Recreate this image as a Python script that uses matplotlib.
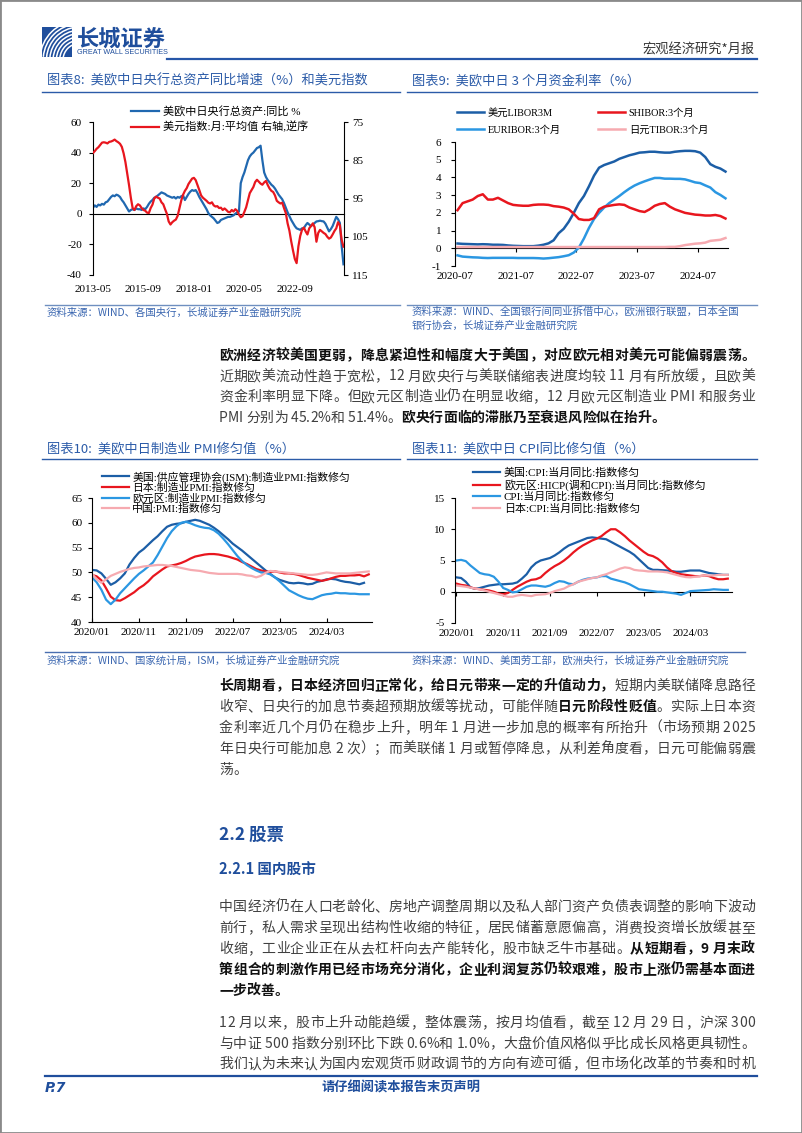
import numpy as np
import matplotlib
matplotlib.use("Agg")
import matplotlib.pyplot as plt
from matplotlib.font_manager import FontProperties
from matplotlib.patches import Rectangle, Arc
from matplotlib.lines import Line2D

# -----------------------------
# Data
# -----------------------------
# Chart 8: monthly, 2013-05 .. 2024-12
x8_start = "2013-05"
x8_labels = ["2013-05", "2015-09", "2018-01", "2020-05", "2022-09"]
cb_assets_yoy = [
    4.0, 5.5, 4.5, 6.0, 5.5, 6.5, 6.0, 7.5, 8.0, 9.5,
    11.0, 12.0, 11.5, 12.5, 12.0, 11.0, 9.0, 7.5, 5.5, 3.5,
    1.5, 2.5, 3.0, 2.5, 3.5, 3.0, 3.0, 2.5, 3.5, 3.0,
    4.5, 6.5, 8.0, 9.0, 10.5, 11.0, 12.0, 13.0, 14.0, 13.5,
    13.0, 12.0, 11.5, 11.0, 10.5, 11.0, 10.0, 11.0, 10.5, 11.5,
    12.0, 9.0, 11.0, 13.0, 14.5, 15.5, 15.0, 15.5, 13.5, 11.0,
    9.0, 7.0, 5.0, 3.0, 0.5, -1.0, -2.0, -3.0, -4.5, -6.0,
    -5.5, -4.0, -3.5, -3.0, -2.5, -2.0, -2.0, -1.5, -1.0, 0.0,
    1.0, 1.5, 20.0, 24.0, 27.0, 31.0, 35.0, 37.5, 39.0, 40.0,
    41.5, 43.0, 43.5, 44.5, 35.0, 27.0, 24.0, 22.0, 20.5, 19.0,
    18.0, 16.5, 14.5, 12.5, 11.0, 9.5, 7.0, 4.0, 1.0, -1.5,
    -4.0, -6.0, -8.0, -9.5, -10.0, -10.5, -9.5, -9.5, -7.5, -6.0,
    -7.0, -8.0, -7.0, -6.0, -5.0, -4.8, -4.5, -4.8, -5.0, -6.5,
    -9.0, -11.5, -10.0, -8.0, -5.0, -2.0, -3.5, -6.0, -21.0, -33.0,
]
dxy_monthly = [
    83.1, 82.6, 82.0, 81.6, 81.0, 80.4, 80.3, 80.4, 80.6, 80.2,
    80.1, 79.9, 79.6, 80.0, 80.3, 80.7, 81.5, 83.2, 85.5, 88.5,
    91.5, 94.8, 97.5, 98.0, 97.0, 96.5, 96.8, 97.5, 98.0, 98.2,
    98.7, 98.8, 97.5, 96.6, 95.0, 94.5, 94.8, 95.0, 96.0, 96.5,
    97.8, 99.0, 101.0, 101.8, 101.2, 100.8, 100.5, 99.5, 97.5, 95.5,
    94.0, 93.0, 92.3, 91.2, 90.5, 89.8, 89.6, 90.2, 91.5, 92.8,
    94.2, 94.8, 95.2, 95.6, 96.1, 96.3, 96.0, 96.8, 97.1, 97.0,
    97.5, 97.4, 98.0, 97.6, 98.0, 98.5, 98.6, 98.0, 98.4, 97.8,
    98.2, 99.2, 99.9, 99.6, 98.5, 97.3, 95.4, 93.6, 92.8, 92.0,
    90.7, 90.1, 90.6, 91.1, 91.4, 90.8, 90.4, 91.5, 92.4, 93.0,
    93.3, 94.2, 95.6, 96.0, 96.3, 96.1, 97.5, 98.8, 101.5, 103.4,
    106.2, 108.6, 110.8, 111.9, 107.5, 104.8, 103.2, 102.6, 103.6, 104.4,
    102.8, 102.2, 101.5, 102.5, 106.3, 104.0, 103.2, 103.6, 104.0, 104.3,
    105.0, 105.5, 105.2, 104.4, 103.5, 102.8, 101.2, 102.0, 105.8, 107.6,
]

# Chart 9: monthly averages, 2020-07 .. 2024-12
x9_start = "2020-07"
x9_labels = ["2020-07", "2021-07", "2022-07", "2023-07", "2024-07"]
libor_3m = [
    0.27, 0.25, 0.24, 0.23, 0.22, 0.23, 0.22, 0.20, 0.20, 0.19,
    0.16, 0.14, 0.13, 0.12, 0.12, 0.12, 0.15, 0.20, 0.28, 0.45,
    0.85, 1.10, 1.50, 2.00, 2.55, 2.95, 3.50, 4.10, 4.55, 4.70,
    4.80, 4.90, 5.05, 5.15, 5.25, 5.32, 5.40, 5.42, 5.45, 5.45,
    5.42, 5.40, 5.40, 5.45, 5.48, 5.50, 5.50, 5.48, 5.40, 5.15,
    4.75, 4.60, 4.50, 4.33,
]
euribor_3m = [
    -0.40, -0.47, -0.49, -0.51, -0.52, -0.54, -0.55, -0.54, -0.54, -0.54,
    -0.54, -0.54, -0.55, -0.55, -0.55, -0.55, -0.56, -0.58, -0.56, -0.53,
    -0.50, -0.45, -0.39, -0.24, 0.04, 0.55, 1.15, 1.65, 2.00, 2.30,
    2.55, 2.75, 2.95, 3.17, 3.37, 3.54, 3.67, 3.78, 3.88, 3.97,
    3.97, 3.93, 3.93, 3.92, 3.92, 3.89, 3.81, 3.72, 3.68, 3.55,
    3.43, 3.17, 3.01, 2.82,
]
shibor_3m = [
    2.15, 2.55, 2.65, 2.75, 2.95, 3.05, 2.75, 2.75, 2.85, 2.70,
    2.55, 2.45, 2.42, 2.40, 2.40, 2.45, 2.47, 2.47, 2.45, 2.38,
    2.35, 2.30, 2.20, 1.95, 1.65, 1.60, 1.60, 1.70, 2.20, 2.35,
    2.40, 2.45, 2.48, 2.45, 2.30, 2.20, 2.10, 2.05, 2.20, 2.40,
    2.50, 2.55, 2.35, 2.20, 2.10, 2.00, 1.95, 1.90, 1.88, 1.85,
    1.85, 1.88, 1.82, 1.68,
]
tibor_3m = [
    0.07, 0.07, 0.07, 0.07, 0.07, 0.07, 0.07, 0.07, 0.07, 0.07,
    0.07, 0.07, 0.07, 0.07, 0.07, 0.07, 0.07, 0.07, 0.07, 0.07,
    0.07, 0.07, 0.07, 0.07, 0.07, 0.07, 0.07, 0.07, 0.07, 0.07,
    0.07, 0.07, 0.07, 0.07, 0.07, 0.07, 0.07, 0.07, 0.07, 0.07,
    0.07, 0.07, 0.08, 0.08, 0.12, 0.18, 0.22, 0.26, 0.28, 0.32,
    0.42, 0.45, 0.48, 0.58,
]

# Charts 10 / 11: monthly from 2020/01
x10_start = "2020/01"
x10_labels = ["2020/01", "2020/11", "2021/09", "2022/07", "2023/05", "2024/03"]
pmi_us = [
    50.5, 50.4, 49.8, 48.7, 47.5, 48.0, 48.8, 49.8, 51.6, 52.9,
    54.0, 54.7, 55.6, 56.5, 57.3, 58.3, 59.2, 59.6, 59.8, 59.9,
    60.2, 60.4, 60.6, 60.4, 60.0, 59.6, 59.0, 58.3, 57.5, 56.7,
    55.8, 55.1, 54.4, 53.6, 52.8, 52.0, 51.2, 50.4, 49.7, 49.0,
    48.5, 48.2, 47.9, 47.8, 47.9, 47.8, 47.6, 47.7, 48.1, 48.3,
    48.6, 48.7, 48.6, 48.3, 48.1, 48.0, 47.8, 47.6, 47.9,
]
pmi_jp = [
    49.5, 49.2, 48.4, 46.8, 45.1, 44.4, 44.3, 44.8, 45.4, 46.0,
    46.8, 47.4, 48.2, 49.2, 49.9, 50.6, 51.2, 51.4, 51.6, 51.9,
    52.3, 52.8, 53.2, 53.4, 53.6, 53.7, 53.7, 53.6, 53.4, 53.2,
    52.9, 52.6, 52.1, 51.7, 51.2, 50.7, 50.4, 50.2, 50.1, 50.2,
    50.0, 49.8, 49.8, 49.7, 49.5, 49.2, 48.9, 48.7, 48.5, 48.3,
    48.5, 48.8, 49.1, 49.3, 49.3, 49.4, 49.4, 49.5, 49.2, 49.6,
]
pmi_ez = [
    49.0, 48.0, 46.5, 44.5, 43.6, 44.5, 45.8, 46.8, 47.8, 48.8,
    49.7, 50.4, 51.2, 52.0, 53.5, 55.2, 56.9, 58.3, 59.3, 60.0,
    60.2, 59.9, 59.5, 59.2, 59.0, 58.9, 58.5, 57.8, 56.8, 55.7,
    54.5, 53.3, 52.3, 51.5, 50.9, 50.4, 50.0, 49.9, 49.6, 49.0,
    48.2, 47.3, 46.4, 45.9, 45.4, 45.0, 44.7, 44.6, 45.0, 45.4,
    45.6, 45.7, 45.9, 45.8, 45.8, 45.7, 45.7, 45.6, 45.6, 45.6,
]
pmi_cn = [
    49.7, 48.6, 47.9, 48.6, 49.3, 49.7, 50.1, 50.4, 50.7, 50.9,
    51.0, 51.2, 51.3, 51.4, 51.5, 51.5, 51.4, 51.3, 51.1, 50.9,
    50.7, 50.5, 50.4, 50.3, 50.1, 49.9, 49.8, 49.7, 49.7, 49.7,
    49.7, 49.7, 49.6, 49.4, 49.3, 49.0, 49.3, 49.9, 50.3, 50.2,
    50.1, 50.0, 49.9, 49.8, 49.7, 49.6, 49.5, 49.5, 49.6, 49.8,
    50.0, 49.9, 49.8, 49.8, 49.8, 49.8, 49.9, 50.0, 50.1, 50.2,
]
cpi_us = [
    2.3, 2.2, 1.6, 0.7, 0.45, 0.6, 0.8, 1.0, 1.1, 1.2,
    1.2, 1.25, 1.3, 1.5, 2.1, 2.8, 3.9, 4.6, 5.0, 5.2,
    5.4, 5.8, 6.3, 6.9, 7.4, 7.7, 8.0, 8.3, 8.6, 8.7,
    8.6, 8.5, 8.4, 8.0, 7.6, 7.2, 6.8, 6.4, 5.9, 5.2,
    4.5, 3.8, 3.5, 3.5, 3.45, 3.4, 3.3, 3.2, 3.2, 3.3,
    3.4, 3.4, 3.4, 3.2, 3.0, 2.9, 2.8, 2.7, 2.7,
]
hicp_ez = [
    1.3, 1.1, 1.0, 0.7, 0.5, 0.4, 0.3, 0.2, 0.0, -0.3,
    -0.4, -0.2, 0.3, 0.8, 1.2, 1.6, 1.9, 2.0, 2.3, 3.0,
    3.6, 4.1, 4.5, 5.0, 5.6, 6.3, 6.9, 7.4, 7.8, 8.2,
    8.5, 8.9, 9.5, 10.0, 10.0, 9.5, 8.9, 8.2, 7.6, 7.0,
    6.4, 5.9, 5.7, 5.3, 4.7, 3.9, 3.3, 3.0, 2.8, 2.7,
    2.6, 2.5, 2.5, 2.6, 2.5, 2.2, 2.0, 2.0, 2.1,
]
cpi_cn = [
    5.0, 5.1, 4.9, 4.2, 3.6, 3.0, 2.8, 2.7, 2.4, 1.6,
    0.6, 0.3, -0.1, 0.0, 0.4, 0.8, 1.0, 1.0, 0.9, 0.8,
    1.0, 1.4, 1.7, 1.6, 1.3, 1.2, 1.6, 1.9, 2.1, 2.2,
    2.3, 2.5, 2.5, 2.1, 1.9, 1.7, 1.5, 1.2, 0.8, 0.4,
    0.3, 0.2, 0.1, 0.0, 0.0, -0.1, -0.2, -0.3, -0.5, -0.2,
    0.1, 0.15, 0.2, 0.25, 0.3, 0.4, 0.35, 0.3, 0.3,
]
cpi_jp = [
    1.0, 0.9, 0.8, 0.65, 0.5, 0.4, 0.2, 0.0, -0.2, -0.4,
    -0.6, -0.8, -0.8, -0.6, -0.5, -0.6, -0.7, -0.5, -0.45, -0.4,
    -0.2, 0.1, 0.3, 0.5, 0.9, 1.2, 1.6, 1.8, 2.0, 2.2,
    2.3, 2.6, 2.8, 3.1, 3.4, 3.7, 3.9, 3.8, 3.5, 3.4,
    3.35, 3.25, 3.25, 3.25, 3.2, 3.1, 2.9, 2.7, 2.5, 2.35,
    2.3, 2.4, 2.5, 2.6, 2.6, 2.6, 2.7, 2.7, 2.7,
]

# -----------------------------
# Page text
# -----------------------------
para1 = [
    [("欧洲经济较美国更弱，降息紧迫性和幅度大于美国，对应欧元相对美元可能偏弱震荡。", True)],
    [("近期欧美流动性趋于宽松，12 月欧央行与美联储缩表进度均较 11 月有所放缓，且欧美", False)],
    [("资金利率明显下降。但欧元区制造业仍在明显收缩，12 月欧元区制造业 PMI 和服务业", False)],
    [("PMI 分别为 45.2%和 51.4%。", False), ("欧央行面临的滞胀乃至衰退风险似在抬升。", True)],
]
para2 = [
    [("长周期看，日本经济回归正常化，给日元带来一定的升值动力，", True), ("短期内美联储降息路径", False)],
    [("收窄、日央行的加息节奏超预期放缓等扰动，可能伴随", False), ("日元阶段性贬值", True), ("。实际上日本资", False)],
    [("金利率近几个月仍在稳步上升，明年 1 月进一步加息的概率有所抬升（市场预期 2025", False)],
    [("年日央行可能加息 2 次）；而美联储 1 月或暂停降息，从利差角度看，日元可能偏弱震", False)],
    [("荡。", False)],
]
para3 = [
    [("中国经济仍在人口老龄化、房地产调整周期以及私人部门资产负债表调整的影响下波动", False)],
    [("前行，私人需求呈现出结构性收缩的特征，居民储蓄意愿偏高，消费投资增长放缓甚至", False)],
    [("收缩，工业企业正在从去杠杆向去产能转化，股市缺乏牛市基础。", False), ("从短期看，9 月末政", True)],
    [("策组合的刺激作用已经市场充分消化，企业利润复苏仍较艰难，股市上涨仍需基本面进", True)],
    [("一步改善。", True)],
]
para4 = [
    [("12 月以来，股市上升动能趋缓，整体震荡，按月均值看，截至 12 月 29 日，沪深 300", False)],
    [("与中证 500 指数分别环比下跌 0.6%和 1.0%，大盘价值风格似乎比成长风格更具韧性。", False)],
    [("我们认为未来认为国内宏观货币财政调节的方向有迹可循，但市场化改革的节奏和时机", False)],
]

# -----------------------------
# Styling
# -----------------------------
W, H = 802, 1133
CJK = "Noto Sans CJK SC"
SERIF = ["Liberation Serif", CJK]
plt.rcParams["font.family"] = [CJK, "DejaVu Sans"]
plt.rcParams["axes.unicode_minus"] = False

NAVY = "#1F4E9C"
TITLE_BLUE = "#2B5BA8"
SRC_BLUE = "#3A66B0"
DARK_BLUE = "#1C5EA6"
MID_BLUE = "#2068B0"
LIGHT_BLUE = "#2B97E2"
RED = "#E8161E"
PINK = "#F6AAB0"

tick_fp = FontProperties(family=SERIF, size=8)

fig = plt.figure(figsize=(W / 100, H / 100), dpi=100)


def fx(x):
    return x / W


def fy(y):
    return 1 - y / H


def hline(y, x0, x1, color, lw):
    fig.add_artist(Line2D([fx(x0), fx(x1)], [fy(y), fy(y)], color=color, lw=lw,
                          transform=fig.transFigure))


def make_ax(l, t, r, b):
    return fig.add_axes([fx(l), fy(b), (r - l) / W, (b - t) / H])


def month_pos(label, start):
    sep = "-" if "-" in start else "/"
    y0, m0 = [int(v) for v in start.split(sep)]
    y1, m1 = [int(v) for v in label.split(sep)]
    return (y1 - y0) * 12 + (m1 - m0)


def style_ax(ax, left=True, right=False):
    for s in ["top", "bottom", "right", "left"]:
        ax.spines[s].set_visible(False)
    if left:
        ax.spines["left"].set_visible(True)
        ax.spines["left"].set_linewidth(0.8)
    if right:
        ax.spines["right"].set_visible(True)
        ax.spines["right"].set_linewidth(0.8)
    for lab in ax.get_xticklabels() + ax.get_yticklabels():
        lab.set_fontproperties(tick_fp)


def zero_axis(ax, pos, ymin, ymax, length):
    z = ax.secondary_xaxis((0 - ymin) / (ymax - ymin))
    z.set_xticks(pos)
    z.tick_params(axis="x", length=length, width=0.8, direction="out", labelbottom=False)
    z.spines["bottom"].set_linewidth(0.8)
    return z


# page frame
fig.add_artist(Rectangle((0, 0), 1, 1, transform=fig.transFigure, fill=False,
                         ec="#8a8a8a", lw=2))

# -----------------------------
# Header
# -----------------------------
logo = fig.add_axes([fx(42), fy(57), 30 / W, 30 / H])
logo.set_xlim(0, 1)
logo.set_ylim(0, 1)
logo.axis("off")
logo.add_patch(Rectangle((0, 0), 1, 1, color=NAVY))
for r in np.arange(0.55, 1.35, 0.11):
    a = Arc((1.25, -0.1), 2 * r, 2 * r, theta1=95, theta2=175, color="white", lw=1.1)
    a.set_clip_path(logo.patches[0])
    logo.add_patch(a)
fig.text(fx(77), fy(39), "长城证券", fontsize=16, fontweight="bold", color=NAVY, va="center")
fig.text(fx(77), fy(53), "GREAT WALL SECURITIES", fontsize=5.2, family="Liberation Sans",
         color=NAVY, va="center")
fig.text(fx(755), fy(50), "宏观经济研究*月报", fontsize=9.5, color="#333333", ha="right", va="center")
hline(59, 167, 757, "#2656A8", 1.6)

# -----------------------------
# Chart captions / rules / sources
# -----------------------------
fig.text(fx(47), fy(81), "图表8:  美欧中日央行总资产同比增速（%）和美元指数", fontsize=9.5,
         color=TITLE_BLUE, va="center")
fig.text(fx(412), fy(81), "图表9:  美欧中日 3 个月资金利率（%）", fontsize=9.5,
         color=TITLE_BLUE, va="center")
fig.text(fx(47), fy(449), "图表10:  美欧中日制造业 PMI修匀值（%）", fontsize=9.5,
         color=TITLE_BLUE, va="center")
fig.text(fx(412), fy(449), "图表11:  美欧中日 CPI同比修匀值（%）", fontsize=9.5,
         color=TITLE_BLUE, va="center")
hline(92, 42, 400, TITLE_BLUE, 1.0)
hline(92, 407, 757, TITLE_BLUE, 1.0)
hline(459, 42, 400, TITLE_BLUE, 1.0)
hline(459, 407, 757, TITLE_BLUE, 1.0)
hline(305, 45, 400, "#6F8FC0", 1.0)
hline(305, 407, 757, "#6F8FC0", 1.0)
hline(652, 45, 745, "#4A6FB0", 1.0)

src_kw = dict(fontsize=7.5, color=SRC_BLUE, va="center")
fig.text(fx(47), fy(313), "资料来源：WIND、各国央行，长城证券产业金融研究院", **src_kw)
fig.text(fx(412), fy(312), "资料来源：WIND、全国银行间同业拆借中心，欧洲银行联盟，日本全国", **src_kw)
fig.text(fx(412), fy(326), "银行协会，长城证券产业金融研究院", **src_kw)
fig.text(fx(47), fy(661), "资料来源：WIND、国家统计局，ISM，长城证券产业金融研究院", **src_kw)
fig.text(fx(412), fy(661), "资料来源：WIND、美国劳工部，欧洲央行，长城证券产业金融研究院", **src_kw)

# -----------------------------
# Chart 8
# -----------------------------
ax8 = make_ax(93, 122, 344, 275)
x8 = np.arange(len(cb_assets_yoy))
ax8.plot(x8, cb_assets_yoy, color=MID_BLUE, lw=1.6, label="美欧中日央行总资产:同比 %")
ax8.set_xlim(0, 139.3)
ax8.set_ylim(-40, 60)
ax8.set_yticks([-40, -20, 0, 20, 40, 60])
pos8 = [month_pos(s, x8_start) for s in x8_labels]
ax8.set_xticks(pos8)
ax8.set_xticklabels(x8_labels)
ax8.tick_params(axis="x", length=0, pad=7)
ax8.tick_params(axis="y", length=3, width=0.8, pad=5)
style_ax(ax8)
zero_axis(ax8, pos8, -40, 60, 0)

ax8r = ax8.twinx()
ax8r.plot(x8, dxy_monthly, color=RED, lw=1.6, label="美元指数:月:平均值 右轴,逆序")
ax8r.set_ylim(115, 75)
ax8r.set_yticks([75, 85, 95, 105, 115])
ax8r.tick_params(axis="y", length=3, width=0.8, pad=3)
style_ax(ax8r, left=False, right=True)

h8 = ax8.get_lines() + ax8r.get_lines()
fig.legend(h8, [l.get_label() for l in h8], loc="upper left", bbox_to_anchor=(fx(131), fy(106)),
           frameon=False, borderpad=0, borderaxespad=0, handlelength=2.5, handletextpad=0.4,
           labelspacing=0.38, prop=FontProperties(family=SERIF, size=8.0))

# -----------------------------
# Chart 9
# -----------------------------
ax9 = make_ax(455, 142, 728, 266)
x9 = np.arange(len(libor_3m)) + 0.5
ax9.plot(x9, libor_3m, color=DARK_BLUE, lw=1.8, label="美元LIBOR3M")
ax9.plot(x9, euribor_3m, color=LIGHT_BLUE, lw=1.8, label="EURIBOR:3个月")
ax9.plot(x9, shibor_3m, color=RED, lw=1.8, label="SHIBOR:3个月")
ax9.plot(x9, tibor_3m, color=PINK, lw=1.8, label="日元TIBOR:3个月")
ax9.set_xlim(0, 54)
ax9.set_ylim(-1, 6)
ax9.set_yticks(range(-1, 7))
pos9 = [month_pos(s, x9_start) for s in x9_labels]
ax9.set_xticks(pos9)
ax9.set_xticklabels(x9_labels)
ax9.tick_params(axis="x", length=0, pad=4)
ax9.tick_params(axis="y", length=3, width=0.8, pad=7)
style_ax(ax9)
zero_axis(ax9, pos9, -1, 6, 3)
ax9.legend(loc="upper left", bbox_to_anchor=(fx(457), fy(108)), bbox_transform=fig.transFigure,
           ncol=2, frameon=False, borderpad=0, borderaxespad=0, handlelength=2.6,
           handletextpad=0.4, columnspacing=3.6, labelspacing=0.7,
           prop=FontProperties(family=SERIF, size=7.4))

# -----------------------------
# Chart 10
# -----------------------------
ax10 = make_ax(92, 498, 372, 622)
ax10.plot(np.arange(len(pmi_us)), pmi_us, color=DARK_BLUE, lw=1.6,
          label="美国:供应管理协会(ISM):制造业PMI:指数修匀")
ax10.plot(np.arange(len(pmi_jp)), pmi_jp, color=RED, lw=1.6, label="日本:制造业PMI:指数修匀")
ax10.plot(np.arange(len(pmi_ez)), pmi_ez, color=LIGHT_BLUE, lw=1.6, label="欧元区:制造业PMI:指数修匀")
ax10.plot(np.arange(len(pmi_cn)), pmi_cn, color=PINK, lw=1.6, label="中国:PMI:指数修匀")
ax10.set_xlim(0, 59.7)
ax10.set_ylim(40, 65)
ax10.set_yticks([40, 45, 50, 55, 60, 65])
pos10 = [month_pos(s, x10_start) for s in x10_labels]
ax10.set_xticks(pos10)
ax10.set_xticklabels(x10_labels)
ax10.tick_params(axis="x", length=3, width=0.8, direction="in", pad=4)
ax10.tick_params(axis="y", length=3, width=0.8, pad=4)
style_ax(ax10)
ax10.spines["bottom"].set_visible(True)
ax10.spines["bottom"].set_linewidth(0.8)
ax10.legend(loc="upper left", bbox_to_anchor=(fx(102), fy(471)), bbox_transform=fig.transFigure,
            frameon=False, borderpad=0, borderaxespad=0, handlelength=2.5, handletextpad=0.3,
            labelspacing=0.0, prop=FontProperties(family=SERIF, size=7.8))

# -----------------------------
# Chart 11
# -----------------------------
ax11 = make_ax(455, 498, 732, 623)
ax11.plot(np.arange(len(cpi_us)), cpi_us, color=DARK_BLUE, lw=1.6, label="美国:CPI:当月同比:指数修匀")
ax11.plot(np.arange(len(hicp_ez)), hicp_ez, color=RED, lw=1.6, label="欧元区:HICP(调和CPI):当月同比:指数修匀")
ax11.plot(np.arange(len(cpi_cn)), cpi_cn, color=LIGHT_BLUE, lw=1.6, label="CPI:当月同比:指数修匀")
ax11.plot(np.arange(len(cpi_jp)), cpi_jp, color=PINK, lw=1.6, label="日本:CPI:当月同比:指数修匀")
ax11.set_xlim(-0.3, 58.9)
ax11.set_ylim(-5, 15)
ax11.set_yticks([-5, 0, 5, 10, 15])
pos11 = [month_pos(s, x10_start) for s in x10_labels]
ax11.set_xticks(pos11)
ax11.set_xticklabels(x10_labels)
ax11.tick_params(axis="x", length=0, pad=4)
ax11.tick_params(axis="y", length=3, width=0.8, pad=4)
style_ax(ax11)
zero_axis(ax11, pos11, -5, 15, 3)
ax11.legend(loc="upper left", bbox_to_anchor=(fx(473), fy(467.5)), bbox_transform=fig.transFigure,
            frameon=False, borderpad=0, borderaxespad=0, handlelength=2.5, handletextpad=0.3,
            labelspacing=0.1, prop=FontProperties(family=SERIF, size=7.9))

# -----------------------------
# Body text (per-character layout, justified like the page)
# -----------------------------
BODY_SIZE = 10
renderer = fig.canvas.get_renderer()
fp_norm = FontProperties(family=CJK, size=BODY_SIZE, weight="normal")
fp_bold = FontProperties(family=CJK, size=BODY_SIZE, weight="bold")
_wcache = {}


def char_w(c, bold):
    key = (c, bold)
    if key not in _wcache:
        fp = fp_bold if bold else fp_norm
        w3 = renderer.get_text_width_height_descent("中" + c + "中", fp, ismath=False)[0]
        w2 = renderer.get_text_width_height_descent("中中", fp, ismath=False)[0]
        _wcache[key] = w3 - w2
    return _wcache[key]


def draw_paragraph(lines, y0, pitch, x0=219, x1=755, last_justified=False):
    for i, runs in enumerate(lines):
        chars = [(c, b) for txt, b in runs for c in txt]
        widths = [char_w(c, b) for c, b in chars]
        justify = (i < len(lines) - 1) or last_justified
        gap = (x1 - x0 - sum(widths)) / (len(chars) - 1) if justify and len(chars) > 1 else 0.0
        x = x0
        yb = y0 + i * pitch + 5
        for (c, b), w in zip(chars, widths):
            if c != " ":
                fig.text(fx(x), fy(yb), c, fontproperties=fp_bold if b else fp_norm,
                         color="#111111" if b else "#404040", va="baseline", ha="left")
            x += w + gap


draw_paragraph(para1, 355, 20.5)
draw_paragraph(para2, 685, 20.9)
fig.text(fx(219), fy(835), "2.2 股票", fontsize=12.5, fontweight="bold", color=NAVY, va="center")
fig.text(fx(219), fy(870), "2.2.1 国内股市", fontsize=10.5, fontweight="bold", color=NAVY, va="center")
draw_paragraph(para3, 906, 21.0)
draw_paragraph(para4, 1022, 20.6, last_justified=True)

# -----------------------------
# Footer
# -----------------------------
hline(1076, 45, 757, NAVY, 1.6)
fig.text(fx(45), fy(1088), "P.7", fontsize=10, fontweight="bold", style="italic",
         family="DejaVu Sans", color=NAVY, va="center")
fig.text(fx(401), fy(1088), "请仔细阅读本报告末页声明", fontsize=9.5, fontweight="bold",
         color=NAVY, ha="center", va="center")

fig.savefig("out.png", dpi=100)
